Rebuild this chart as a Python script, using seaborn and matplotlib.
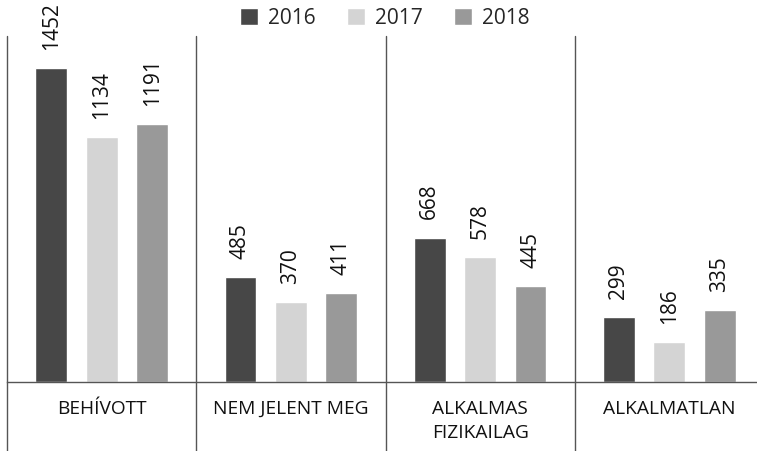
import matplotlib
matplotlib.use('Agg')
import matplotlib.pyplot as plt
import seaborn as sns
import pandas as pd

categories = ['BEHÍVOTT', 'NEM JELENT MEG', 'ALKALMAS\nFIZIKAILAG', 'ALKALMATLAN']
years = ['2016', '2017', '2018']
values_2016 = [1452, 485, 668, 299]
values_2017 = [1134, 370, 578, 186]
values_2018 = [1191, 411, 445, 335]
colors = ['#474747', '#d4d4d4', '#999999']

df = pd.DataFrame({
	'category': categories * 3,
	'year': [y for y in years for _ in categories],
	'value': values_2016 + values_2017 + values_2018,
})

sns.set_style('white')
plt.rcParams['font.family'] = ['Open Sans', 'DejaVu Sans']

fig = plt.figure(figsize=(7.57, 4.51), dpi=100)
ax = fig.add_axes([7 / 757, 69 / 451, 757 / 757, 346 / 451])
sns.barplot(data=df, x='category', y='value', hue='year', palette=colors,
	width=0.8, gap=0.37, ax=ax, saturation=1)

ax.set_xlim(-0.5, 3.5)
ax.set_ylim(0, 1600)
ax.set_yticks([])
ax.set_xlabel('')
ax.set_ylabel('')
for s in ['top', 'right', 'left']:
	ax.spines[s].set_visible(False)
ax.spines['bottom'].set_color('#555555')
ax.spines['bottom'].set_linewidth(1)
ax.tick_params(axis='x', length=0, pad=13, labelsize=13.8, colors='#111111')
for lbl in ax.get_xticklabels():
	lbl.set_linespacing(1.45)
	lbl.set_verticalalignment('top')

# category separators, reaching below the axis
for b in [-0.5, 0.5, 1.5, 2.5]:
	ax.plot([b, b], [-69 / 346, 1], color='#555555', lw=1,
		transform=ax.get_xaxis_transform(), clip_on=False)

for c in ax.containers:
	ax.bar_label(c, rotation=90, padding=13, fontsize=15, color='#111111')

handles, labels = ax.get_legend_handles_labels()
ax.get_legend().remove()
fig.legend(handles, labels, loc='center', bbox_to_anchor=(385 / 757, 1 - 18 / 451),
	ncol=3, frameon=False, fontsize=15, handlelength=0.85, handleheight=0.85,
	handletextpad=0.5, columnspacing=1.5, borderpad=0)

fig.savefig('out.png', dpi=100)
